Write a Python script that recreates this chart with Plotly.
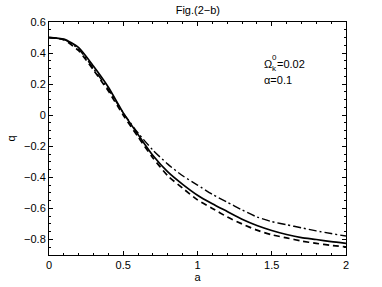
import plotly.graph_objects as go

a_vals = [0.0, 0.1, 0.2, 0.3, 0.4, 0.5, 0.6, 0.7, 0.8, 0.9, 1.0,
          1.1, 1.2, 1.3, 1.4, 1.5, 1.6, 1.7, 1.8, 1.9, 2.0]
q_solid = [0.5, 0.49, 0.435, 0.315, 0.18, 0.015, -0.125, -0.26, -0.365, -0.445, -0.515,
           -0.57, -0.62, -0.67, -0.71, -0.742, -0.768, -0.788, -0.80, -0.814, -0.825]
q_dashed = [0.5, 0.485, 0.415, 0.29, 0.155, 0.0, -0.14, -0.275, -0.39, -0.47, -0.545,
            -0.60, -0.655, -0.70, -0.74, -0.77, -0.79, -0.81, -0.825, -0.838, -0.848]
q_dashdot = [0.5, 0.488, 0.425, 0.30, 0.165, 0.015, -0.115, -0.225, -0.315, -0.39, -0.45,
             -0.51, -0.56, -0.61, -0.655, -0.685, -0.705, -0.725, -0.745, -0.762, -0.778]

x_ticks = [0, 0.5, 1, 1.5, 2]
x_tick_labels = ["0", "0.5", "1", "1.5", "2"]
y_ticks = [0.6, 0.4, 0.2, 0, -0.2, -0.4, -0.6, -0.8]
y_tick_labels = ["0.6", "0.4", "0.2", "0", "\u22120.2", "\u22120.4", "\u22120.6", "\u22120.8"]

fig = go.Figure()
fig.add_trace(go.Scatter(x=a_vals, y=q_dashdot, mode="lines", line=dict(color="black", width=1.4, dash="8px,3px,2px,3px", shape="spline", smoothing=0.6)))
fig.add_trace(go.Scatter(x=a_vals, y=q_dashed, mode="lines", line=dict(color="black", width=1.7, dash="6px,4px", shape="spline", smoothing=0.6)))
fig.add_trace(go.Scatter(x=a_vals, y=q_solid, mode="lines", line=dict(color="black", width=1.7, shape="spline", smoothing=0.6)))

font = dict(family="Liberation Sans, Arial, sans-serif", size=11, color="black")
axis_common = dict(showgrid=False, zeroline=False, showline=True, linecolor="black", linewidth=1,
                   mirror="ticks", ticks="inside", ticklen=4, tickcolor="black", tickfont=font,
                   automargin=False)
fig.update_layout(
    width=382, height=287,
    margin=dict(l=49, r=36, t=22, b=32),
    paper_bgcolor="white", plot_bgcolor="white",
    showlegend=False,
    font=font,
    title=dict(text="Fig.(2\u2212b)", x=0.518, xanchor="center", y=0.965, yanchor="middle", font=dict(size=11)),
    xaxis=dict(range=[0, 2], tickvals=x_ticks, ticktext=x_tick_labels,
               title=dict(text="a", font=font, standoff=2),
               minor=dict(dtick=0.1, ticks="inside", ticklen=2, tickcolor="black"),
               **axis_common),
    yaxis=dict(range=[-0.9, 0.6], tickvals=y_ticks, ticktext=y_tick_labels,
               title=dict(text="q", font=font, standoff=6),
               minor=dict(dtick=0.05, ticks="inside", ticklen=2, tickcolor="black"),
               **axis_common),
)
ann = dict(xref="x", yref="y", xanchor="left", yanchor="middle", showarrow=False)
fig.add_annotation(x=1.434, y=0.33, text="\u03a9", font=dict(size=11), **ann)
fig.add_annotation(x=1.49, y=0.372, text="0", font=dict(size=8), **ann)
fig.add_annotation(x=1.49, y=0.298, text="k", font=dict(size=8), **ann)
fig.add_annotation(x=1.525, y=0.33, text="=0.02", font=dict(size=11), **ann)
fig.add_annotation(x=1.434, y=0.226, text="\u03b1=0.1", font=dict(size=11), **ann)
fig.write_html("out.html", config={"displayModeBar": False},
               post_script="document.body.style.margin='0';")
